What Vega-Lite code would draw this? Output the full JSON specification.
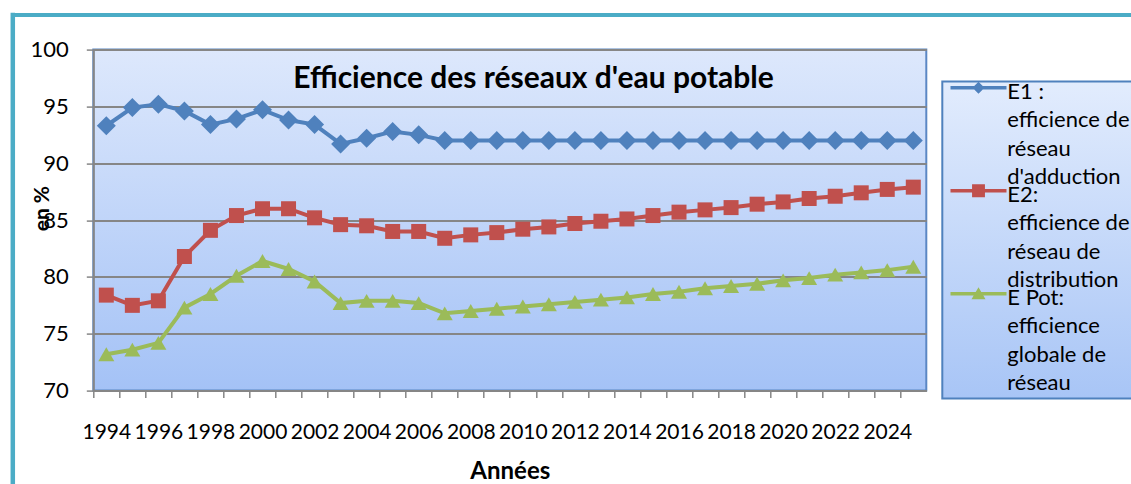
{
  "$schema": "https://vega.github.io/schema/vega-lite/v6.json",
  "width": 833,
  "height": 341,
  "autosize": {"type": "none"},
  "padding": {"left": 93.3, "top": 49.6, "right": 204.7, "bottom": 93.4},
  "background": "white",
  "config": {
    "view": {
      "fill": {"gradient": "linear", "x1": 0, "y1": 0, "x2": 0, "y2": 1, "stops": [{"offset": 0, "color": "#dde8fc"}, {"offset": 1, "color": "#a4c2f6"}]},
      "stroke": "#5b87c4",
      "strokeWidth": 2
    },
    "axis": {
      "labelFont": "Lato",
      "labelColor": "black",
      "titleFont": "Lato",
      "titleColor": "black",
      "domainColor": "#868686",
      "domainWidth": 2,
      "tickColor": "#868686",
      "tickWidth": 1.5,
      "gridColor": "#868686",
      "gridWidth": 2
    }
  },
  "data": {
    "values": [
      {"year": 1994, "serie": "E1", "value": 93.3}, {"year": 1995, "serie": "E1", "value": 94.9}, {"year": 1996, "serie": "E1", "value": 95.2}, {"year": 1997, "serie": "E1", "value": 94.6},
      {"year": 1998, "serie": "E1", "value": 93.4}, {"year": 1999, "serie": "E1", "value": 93.9}, {"year": 2000, "serie": "E1", "value": 94.7}, {"year": 2001, "serie": "E1", "value": 93.8},
      {"year": 2002, "serie": "E1", "value": 93.4}, {"year": 2003, "serie": "E1", "value": 91.7}, {"year": 2004, "serie": "E1", "value": 92.2}, {"year": 2005, "serie": "E1", "value": 92.8},
      {"year": 2006, "serie": "E1", "value": 92.5}, {"year": 2007, "serie": "E1", "value": 92.0}, {"year": 2008, "serie": "E1", "value": 92.0}, {"year": 2009, "serie": "E1", "value": 92.0},
      {"year": 2010, "serie": "E1", "value": 92.0}, {"year": 2011, "serie": "E1", "value": 92.0}, {"year": 2012, "serie": "E1", "value": 92.0}, {"year": 2013, "serie": "E1", "value": 92.0},
      {"year": 2014, "serie": "E1", "value": 92.0}, {"year": 2015, "serie": "E1", "value": 92.0}, {"year": 2016, "serie": "E1", "value": 92.0}, {"year": 2017, "serie": "E1", "value": 92.0},
      {"year": 2018, "serie": "E1", "value": 92.0}, {"year": 2019, "serie": "E1", "value": 92.0}, {"year": 2020, "serie": "E1", "value": 92.0}, {"year": 2021, "serie": "E1", "value": 92.0},
      {"year": 2022, "serie": "E1", "value": 92.0}, {"year": 2023, "serie": "E1", "value": 92.0}, {"year": 2024, "serie": "E1", "value": 92.0}, {"year": 2025, "serie": "E1", "value": 92.0},
      {"year": 1994, "serie": "E2", "value": 78.4}, {"year": 1995, "serie": "E2", "value": 77.5}, {"year": 1996, "serie": "E2", "value": 77.9}, {"year": 1997, "serie": "E2", "value": 81.8},
      {"year": 1998, "serie": "E2", "value": 84.1}, {"year": 1999, "serie": "E2", "value": 85.4}, {"year": 2000, "serie": "E2", "value": 86.0}, {"year": 2001, "serie": "E2", "value": 86.0},
      {"year": 2002, "serie": "E2", "value": 85.2}, {"year": 2003, "serie": "E2", "value": 84.6}, {"year": 2004, "serie": "E2", "value": 84.5}, {"year": 2005, "serie": "E2", "value": 84.0},
      {"year": 2006, "serie": "E2", "value": 84.0}, {"year": 2007, "serie": "E2", "value": 83.4}, {"year": 2008, "serie": "E2", "value": 83.7}, {"year": 2009, "serie": "E2", "value": 83.9},
      {"year": 2010, "serie": "E2", "value": 84.2}, {"year": 2011, "serie": "E2", "value": 84.4}, {"year": 2012, "serie": "E2", "value": 84.7}, {"year": 2013, "serie": "E2", "value": 84.9},
      {"year": 2014, "serie": "E2", "value": 85.1}, {"year": 2015, "serie": "E2", "value": 85.4}, {"year": 2016, "serie": "E2", "value": 85.7}, {"year": 2017, "serie": "E2", "value": 85.9},
      {"year": 2018, "serie": "E2", "value": 86.1}, {"year": 2019, "serie": "E2", "value": 86.4}, {"year": 2020, "serie": "E2", "value": 86.6}, {"year": 2021, "serie": "E2", "value": 86.9},
      {"year": 2022, "serie": "E2", "value": 87.1}, {"year": 2023, "serie": "E2", "value": 87.4}, {"year": 2024, "serie": "E2", "value": 87.7}, {"year": 2025, "serie": "E2", "value": 87.9},
      {"year": 1994, "serie": "E Pot", "value": 73.2}, {"year": 1995, "serie": "E Pot", "value": 73.6}, {"year": 1996, "serie": "E Pot", "value": 74.2}, {"year": 1997, "serie": "E Pot", "value": 77.3},
      {"year": 1998, "serie": "E Pot", "value": 78.5}, {"year": 1999, "serie": "E Pot", "value": 80.1}, {"year": 2000, "serie": "E Pot", "value": 81.4}, {"year": 2001, "serie": "E Pot", "value": 80.7},
      {"year": 2002, "serie": "E Pot", "value": 79.6}, {"year": 2003, "serie": "E Pot", "value": 77.7}, {"year": 2004, "serie": "E Pot", "value": 77.9}, {"year": 2005, "serie": "E Pot", "value": 77.9},
      {"year": 2006, "serie": "E Pot", "value": 77.7}, {"year": 2007, "serie": "E Pot", "value": 76.8}, {"year": 2008, "serie": "E Pot", "value": 77.0}, {"year": 2009, "serie": "E Pot", "value": 77.2},
      {"year": 2010, "serie": "E Pot", "value": 77.4}, {"year": 2011, "serie": "E Pot", "value": 77.6}, {"year": 2012, "serie": "E Pot", "value": 77.8}, {"year": 2013, "serie": "E Pot", "value": 78.0},
      {"year": 2014, "serie": "E Pot", "value": 78.2}, {"year": 2015, "serie": "E Pot", "value": 78.5}, {"year": 2016, "serie": "E Pot", "value": 78.7}, {"year": 2017, "serie": "E Pot", "value": 79.0},
      {"year": 2018, "serie": "E Pot", "value": 79.2}, {"year": 2019, "serie": "E Pot", "value": 79.4}, {"year": 2020, "serie": "E Pot", "value": 79.7}, {"year": 2021, "serie": "E Pot", "value": 79.9},
      {"year": 2022, "serie": "E Pot", "value": 80.2}, {"year": 2023, "serie": "E Pot", "value": 80.4}, {"year": 2024, "serie": "E Pot", "value": 80.6}, {"year": 2025, "serie": "E Pot", "value": 80.9}
    ]
  },
  "encoding": {
    "x": {"field": "year", "type": "quantitative", "scale": {"domain": [1993.5, 2025.5], "nice": false, "zero": false}},
    "y": {"field": "value", "type": "quantitative", "scale": {"domain": [70, 100], "nice": false, "zero": false}},
    "color": {
      "field": "serie", "type": "nominal",
      "scale": {"domain": ["E1", "E2", "E Pot"], "range": ["#4f81bd", "#c0504d", "#9bbb59"]},
      "legend": {
        "orient": "none", "legendX": 849, "legendY": 32, "title": null,
        "labelFont": "Lato", "labelFontSize": 22, "labelColor": "black", "labelLimit": 400,
        "labelExpr": "datum.value === 'E1' ? ['E1 :', 'efficience de', 'réseau', \"d'adduction\"] : datum.value === 'E2' ? ['E2:', 'efficience de', 'réseau de', 'distribution'] : ['E Pot:', 'efficience', 'globale de', 'réseau']",
        "symbolSize": 784, "symbolStrokeWidth": 0, "symbolOpacity": 1, "labelOffset": 33, "rowPadding": -16, "padding": 4,
        "strokeColor": "#4f81bd",
        "encode": {
          "symbols": {"update": {
            "shape": {"signal": "datum.value === 'E1' ? 'M-0.7,-0.98H3.3V-0.72H-0.7Z M1.3,-1.28L1.73,-0.85L1.3,-0.42L0.87,-0.85Z' : datum.value === 'E2' ? 'M-0.7,-0.98H3.3V-0.72H-0.7Z M0.84,-1.31H1.76V-0.39H0.84Z' : 'M-0.7,-0.98H3.3V-0.72H-0.7Z M1.3,-1.31L1.8,-0.45H0.8Z'"},
            "fill": {"scale": "color", "field": "value"},
            "fillOpacity": {"value": 1},
            "stroke": {"value": "transparent"},
            "strokeWidth": {"value": 0},
            "opacity": {"value": 1}
          }},
          "labels": {"update": {"lineHeight": {"value": 28.5}, "baseline": {"value": "top"}, "dy": {"value": -18}}},
          "legend": {"update": {
            "fill": {"value": {"gradient": "linear", "x1": 0, "y1": 0, "x2": 0, "y2": 1, "stops": [{"offset": 0, "color": "#e2ecfd"}, {"offset": 1, "color": "#a8c5f6"}]}},
            "strokeWidth": {"value": 2}
          }}
        }
      }
    }
  },
  "layer": [
    {
      "mark": {"type": "line", "strokeWidth": 4},
      "encoding": {
        "x": {
          "field": "year", "type": "quantitative",
          "axis": {
            "title": "Années", "titleFontSize": 24, "titleFontWeight": "bold", "titlePadding": 17,
            "values": [1994, 1995, 1996, 1997, 1998, 1999, 2000, 2001, 2002, 2003, 2004, 2005, 2006, 2007, 2008, 2009, 2010, 2011, 2012, 2013, 2014, 2015, 2016, 2017, 2018, 2019, 2020, 2021, 2022, 2023, 2024, 2025, 2026],
            "format": "d",
            "labelExpr": "datum.value % 2 == 0 && datum.value < 2025 ? datum.label : ''",
            "labelFontSize": 21, "labelOverlap": false, "labelFlush": false, "labelPadding": 24,
            "tickOffset": -13.02, "labelOffset": 13.02, "tickSize": 7,
            "grid": false
          }
        },
        "y": {
          "field": "value", "type": "quantitative",
          "axis": {
            "title": "en %", "titleFontSize": 21, "titleFontWeight": "bold", "titleX": -51, "titleY": 158.5, "titleAngle": -90, "titleAlign": "center", "titleBaseline": "middle",
            "values": [70, 75, 80, 85, 90, 95, 100],
            "labelFontSize": 22, "labelPadding": 18, "tickSize": 7,
            "grid": true
          }
        }
      }
    },
    {
      "transform": [{"filter": "datum.serie === 'E1'"}],
      "mark": {"type": "point", "shape": "diamond", "size": 361, "filled": true, "opacity": 1, "strokeWidth": 0},
      "encoding": {
        "x": {"field": "year", "type": "quantitative", "axis": null},
        "y": {"field": "value", "type": "quantitative", "axis": null}
      }
    },
    {
      "transform": [{"filter": "datum.serie === 'E2'"}],
      "mark": {"type": "point", "shape": "square", "size": 225, "filled": true, "opacity": 1, "strokeWidth": 0},
      "encoding": {
        "x": {"field": "year", "type": "quantitative", "axis": null},
        "y": {"field": "value", "type": "quantitative", "axis": null}
      }
    },
    {
      "transform": [{"filter": "datum.serie === 'E Pot'"}],
      "mark": {"type": "point", "shape": "triangle-up", "size": 256, "filled": true, "opacity": 1, "strokeWidth": 0},
      "encoding": {
        "x": {"field": "year", "type": "quantitative", "axis": null},
        "y": {"field": "value", "type": "quantitative", "axis": null}
      }
    },
    {
      "mark": {"type": "point", "opacity": 0},
      "encoding": {
        "x": {
          "field": "year", "type": "quantitative",
          "axis": {"orient": "top", "title": null, "values": [1993.5], "labels": false, "domain": false, "grid": false, "offset": 37.3, "tickOffset": -80.8, "tickSize": -700, "tickWidth": 4.5, "tickColor": "#4bacc6"}
        },
        "y": {
          "field": "value", "type": "quantitative",
          "axis": {"orient": "right", "title": null, "values": [100], "labels": false, "domain": false, "grid": false, "offset": -913.8, "tickOffset": -35.3, "tickSize": 1200, "tickWidth": 4, "tickColor": "#4bacc6"}
        }
      }
    },
    {
      "mark": {"type": "point", "opacity": 0},
      "encoding": {
        "x": {
          "field": "year", "type": "quantitative",
          "axis": {"orient": "top", "title": "Efficience des réseaux d'eau potable", "titleFontSize": 30, "titleFontWeight": "bold", "titleX": 439.7, "titleY": 37.4, "titleAlign": "center", "titleBaseline": "alphabetic", "titleAngle": 0, "labels": false, "ticks": false, "domain": false, "grid": false}
        },
        "y": {"field": "value", "type": "quantitative", "axis": null}
      }
    }
  ],
  "resolve": {"axis": {"x": "independent", "y": "independent"}}
}
